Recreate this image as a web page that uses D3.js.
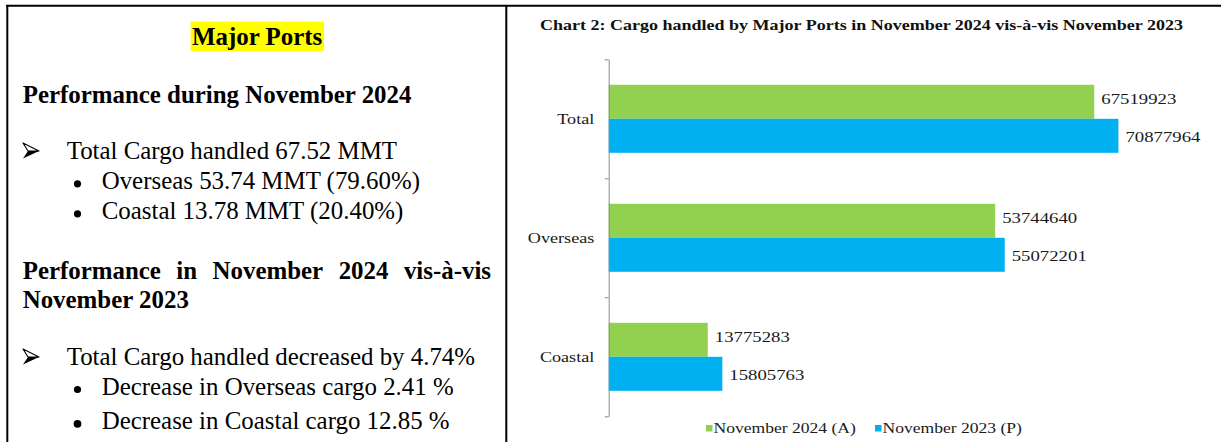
<!DOCTYPE html>
<html>
<head>
<meta charset="utf-8">
<title>Major Ports</title>
<style>
  body { margin: 0; background: #fff; }
  svg { display: block; }
  .panel text { font-family: "Liberation Serif", "Times New Roman", serif; fill: #000; }
  .chart text { font-family: "Liberation Serif", "Times New Roman", serif; }
  .chart .axis path, .chart .axis line { stroke: #8c8c8c; }
</style>
<script src="https://cdn.jsdelivr.net/npm/d3@7"></script>
</head>
<body>
<svg id="page" width="1221" height="442"></svg>
<script>
// chart data
const categories = ['Total', 'Overseas', 'Coastal'];
const seriesNames = ['November 2024 (A)', 'November 2023 (P)'];
const nov2024 = [67519923, 53744640, 13775283];
const nov2023 = [70877964, 55072201, 15805763];
const seriesColors = ['#92d050', '#00b0f0'];
const xMax = 80000000;
const chartTitle = 'Chart 2: Cargo handled by Major Ports in November 2024 vis-à-vis November 2023';

// left panel text
const heading = 'Major Ports';
const section1 = 'Performance during November 2024';
const section1Main = 'Total Cargo handled 67.52 MMT';
const section1Items = ['Overseas 53.74 MMT (79.60%)', 'Coastal 13.78 MMT (20.40%)'];
const section2 = ['Performance in November 2024 vis-à-vis', 'November 2023'];
const section2Main = 'Total Cargo handled decreased by 4.74%';
const section2Items = ['Decrease in Overseas cargo 2.41 %', 'Decrease in Coastal cargo 12.85 %'];

const svg = d3.select('#page');
const FS = 24.9;

// frame lines
svg.append('line').attr('x1', 6).attr('x2', 1221).attr('y1', 5.7).attr('y2', 5.7)
	.attr('stroke', '#000').attr('stroke-width', 2);
svg.append('line').attr('x1', 7.3).attr('x2', 7.3).attr('y1', 5).attr('y2', 442)
	.attr('stroke', '#000').attr('stroke-width', 2);
svg.append('line').attr('x1', 506.3).attr('x2', 506.3).attr('y1', 5).attr('y2', 442)
	.attr('stroke', '#000').attr('stroke-width', 2);

// ---- left panel ----
const panel = svg.append('g').attr('class', 'panel');

const hl = panel.append('rect').attr('fill', '#ffff00');
const head = panel.append('text')
	.attr('x', 257.2).attr('y', 45)
	.attr('text-anchor', 'middle')
	.attr('font-size', FS).attr('font-weight', 'bold')
	.text(heading);
const hb = head.node().getBBox();
hl.attr('x', hb.x - 1.5).attr('y', 21.7).attr('width', hb.width + 3).attr('height', 29.3);

function line(x, y, txt, bold) {
	return panel.append('text')
		.attr('x', x).attr('y', y)
		.attr('font-size', FS)
		.attr('font-weight', bold ? 'bold' : 'normal')
		.text(txt);
}
// top-lit arrowhead, like the Wingdings one
function arrow(y) {
	const g = panel.append('g').attr('transform', `translate(23,${y - 16})`);
	g.append('path').attr('d', 'M0,0 L16,8 L5,8 Z')
		.attr('fill', '#fff').attr('stroke', '#000').attr('stroke-width', 1.1).attr('stroke-linejoin', 'round');
	g.append('path').attr('d', 'M5,8 L16,8 L0,15.5 Z').attr('fill', '#000');
}
function bullet(y, r) {
	panel.append('circle').attr('cx', 77.5).attr('cy', y - 5.5).attr('r', r || 3.6).attr('fill', '#000');
}

line(22.7, 102.7, section1, true);
arrow(159);
line(66.7, 159.3, section1Main);
[189.3, 219.3].forEach((y, i) => {
	bullet(y);
	line(101.7, y, section1Items[i]);
});

// justified first line of second heading
(function () {
	const words = section2[0].split(' ');
	const left = 22.7, right = 491, y = 279.3;
	const nodes = words.map(w => line(0, y, w, true));
	const widths = nodes.map(n => n.node().getComputedTextLength());
	const gap = (right - left - d3.sum(widths)) / (words.length - 1);
	let cx = left;
	nodes.forEach((n, i) => {
		n.attr('x', cx);
		cx += widths[i] + gap;
	});
})();
line(22.7, 308.3, section2[1], true);

arrow(365);
line(66.7, 365, section2Main);
[395, 429.3].forEach((y, i) => {
	bullet(y, i == 1 ? 3.9 : 3.6);
	line(101.7, y, section2Items[i]);
});

// ---- chart ----
const chart = svg.append('g').attr('class', 'chart');

const x = d3.scaleLinear().domain([0, xMax]).range([608.7, 1184]);
const y = d3.scaleBand().domain(categories).range([59.3, 416.3]);
const ySub = d3.scaleBand().domain([0, 1]).range([0, y.bandwidth()]).paddingOuter(0.75);

function stretch(sel, k) {
	sel.each(function () {
		const w = this.getComputedTextLength();
		d3.select(this).attr('textLength', w * k).attr('lengthAdjust', 'spacingAndGlyphs');
	});
}

chart.append('text')
	.attr('x', 540).attr('y', 29.5)
	.attr('font-size', 14.5).attr('font-weight', 'bold')
	.attr('fill', '#111')
	.attr('textLength', 643).attr('lengthAdjust', 'spacingAndGlyphs')
	.text(chartTitle);

const series = [nov2024, nov2023];
series.forEach((vals, i) => {
	const g = chart.append('g');
	g.selectAll('rect')
		.data(vals)
		.join('rect')
		.attr('x', x(0))
		.attr('y', (d, j) => y(categories[j]) + ySub(i))
		.attr('width', d => x(d) - x(0))
		.attr('height', ySub.bandwidth())
		.attr('fill', seriesColors[i]);
	const labels = g.selectAll('text')
		.data(vals)
		.join('text')
		.attr('x', d => x(d) + 7)
		.attr('y', (d, j) => y(categories[j]) + ySub(i) + ySub.bandwidth() / 2)
		.attr('dy', i == 0 ? '0.12em' : '0.4em')
		.attr('font-size', 15.5)
		.attr('fill', '#1a1a1a')
		.text(d => d);
	stretch(labels, 1.21);
});

// category axis with boundary ticks
const bounds = d3.scaleLinear().domain([0, categories.length]).range(y.range());
chart.append('g')
	.attr('class', 'axis')
	.attr('transform', `translate(${x(0)},0)`)
	.call(d3.axisLeft(bounds).tickValues(d3.range(categories.length + 1)).tickSize(4).tickSizeOuter(0).tickFormat(''));

const catLabels = chart.append('g').selectAll('text')
	.data(categories)
	.join('text')
	.attr('x', 594.3)
	.attr('y', d => y(d) + y.bandwidth() / 2)
	.attr('dy', '0.35em')
	.attr('text-anchor', 'end')
	.attr('font-size', 14.5)
	.attr('fill', '#1a1a1a')
	.text(d => d);
stretch(catLabels, 1.25);

// legend
const legendX = [706, 875];
seriesNames.forEach((name, i) => {
	chart.append('rect')
		.attr('x', legendX[i]).attr('y', 425)
		.attr('width', 6.5).attr('height', 6.5)
		.attr('fill', seriesColors[i]);
	const t = chart.append('text')
		.attr('x', legendX[i] + 7.5).attr('y', 432.5)
		.attr('font-size', 14.5)
		.attr('fill', '#1a1a1a')
		.text(name);
	stretch(t, 1.21);
});
</script>
</body>
</html>
